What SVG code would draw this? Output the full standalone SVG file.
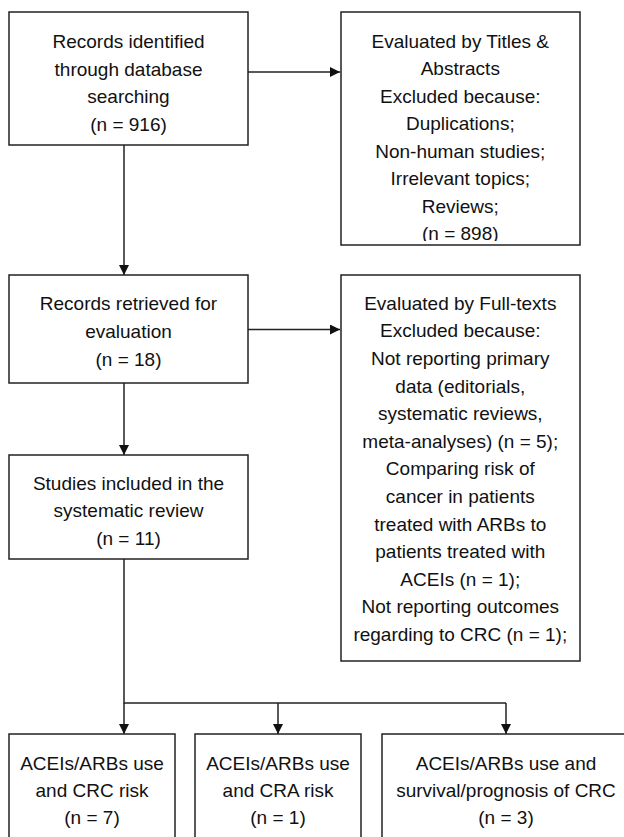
<svg xmlns="http://www.w3.org/2000/svg" width="624" height="837" viewBox="0 0 624 837">
<style>
.box{fill:#fff;stroke:#222;stroke-width:1.5}
.t{font-family:"Liberation Sans",Arial,sans-serif;font-size:19px;fill:#111;text-anchor:middle}
.c{fill:none;stroke:#222;stroke-width:1.5}
</style>
<defs>
<marker id="ah" viewBox="0 0 10 10" refX="10" refY="5" markerWidth="10" markerHeight="10" markerUnits="userSpaceOnUse" orient="auto">
<path d="M0,0 L10,5 L0,10 z" fill="#111"/>
</marker>
<clipPath id="clip2"><rect x="341" y="12" width="239" height="229"/></clipPath>
</defs>
<rect width="624" height="837" fill="#fff"/>
<g id="connectors">
<line class="c" x1="248" y1="72" x2="340" y2="72" marker-end="url(#ah)"/>
<line class="c" x1="124" y1="145" x2="124" y2="275" marker-end="url(#ah)"/>
<line class="c" x1="248" y1="329.5" x2="340" y2="329.5" marker-end="url(#ah)"/>
<line class="c" x1="124" y1="383" x2="124" y2="455" marker-end="url(#ah)"/>
<polyline class="c" points="124,559 124,703 506,703"/>
<line class="c" x1="124" y1="703" x2="124" y2="734" marker-end="url(#ah)"/>
<line class="c" x1="278" y1="703" x2="278" y2="734" marker-end="url(#ah)"/>
<line class="c" x1="506" y1="703" x2="506" y2="734" marker-end="url(#ah)"/>
</g>
<g id="n1">
<rect class="box" x="9" y="12" width="239" height="133"/>
<text class="t" x="128.5" y="48">Records identified</text>
<text class="t" x="128.5" y="75.7">through database</text>
<text class="t" x="128.5" y="103.4">searching</text>
<text class="t" x="128.5" y="131.1">(n = 916)</text>
</g>
<g id="n2">
<rect class="box" x="341" y="12" width="239" height="233"/>
<g clip-path="url(#clip2)">
<text class="t" x="460.3" y="47.5">Evaluated by Titles &amp;</text>
<text class="t" x="460.3" y="75">Abstracts</text>
<text class="t" x="460.3" y="102.5">Excluded because:</text>
<text class="t" x="460.3" y="130">Duplications;</text>
<text class="t" x="460.3" y="157.5">Non-human studies;</text>
<text class="t" x="460.3" y="185">Irrelevant topics;</text>
<text class="t" x="460.3" y="212.5">Reviews;</text>
<text class="t" x="460.3" y="240">(n = 898)</text>
</g>
</g>
<g id="n3">
<rect class="box" x="9" y="275" width="239" height="108"/>
<text class="t" x="128.5" y="309.8">Records retrieved for</text>
<text class="t" x="128.5" y="338.2">evaluation</text>
<text class="t" x="128.5" y="365.8">(n = 18)</text>
</g>
<g id="n4">
<rect class="box" x="341" y="275" width="239" height="386"/>
<text class="t" x="460.3" y="309.8">Evaluated by Full-texts</text>
<text class="t" x="460.3" y="337.4">Excluded because:</text>
<text class="t" x="460.3" y="365">Not reporting primary</text>
<text class="t" x="460.3" y="392.6">data (editorials,</text>
<text class="t" x="460.3" y="420.2">systematic reviews,</text>
<text class="t" x="460.3" y="447.8">meta-analyses) (n = 5);</text>
<text class="t" x="460.3" y="475.4">Comparing risk of</text>
<text class="t" x="460.3" y="503">cancer in patients</text>
<text class="t" x="460.3" y="530.6">treated with ARBs to</text>
<text class="t" x="460.3" y="558.2">patients treated with</text>
<text class="t" x="460.3" y="585.8">ACEIs (n = 1);</text>
<text class="t" x="460.3" y="613.4">Not reporting outcomes</text>
<text class="t" x="460.3" y="641">regarding to CRC (n = 1);</text>
</g>
<g id="n5">
<rect class="box" x="9" y="455" width="239" height="104"/>
<text class="t" x="128.5" y="489.8">Studies included in the</text>
<text class="t" x="128.5" y="517.2">systematic review</text>
<text class="t" x="128.5" y="544.5">(n = 11)</text>
</g>
<g id="n6">
<rect class="box" x="9" y="734" width="166" height="120"/>
<text class="t" x="92" y="770">ACEIs/ARBs use</text>
<text class="t" x="92" y="797">and CRC risk</text>
<text class="t" x="92" y="824">(n = 7)</text>
</g>
<g id="n7">
<rect class="box" x="195" y="734" width="166" height="120"/>
<text class="t" x="278" y="770">ACEIs/ARBs use</text>
<text class="t" x="278" y="797">and CRA risk</text>
<text class="t" x="278" y="824">(n = 1)</text>
</g>
<g id="n8">
<rect class="box" x="382" y="734" width="260" height="120"/>
<text class="t" x="506" y="770">ACEIs/ARBs use and</text>
<text class="t" x="506" y="797">survival/prognosis of CRC</text>
<text class="t" x="506" y="824">(n = 3)</text>
</g>
</svg>
